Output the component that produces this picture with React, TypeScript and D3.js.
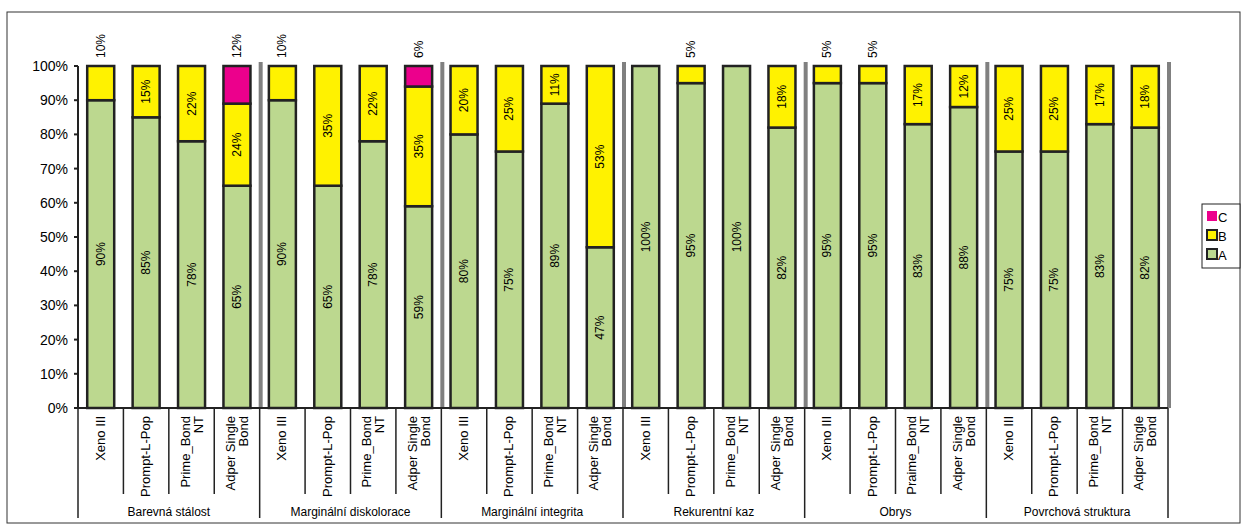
import * as React from "react";
import * as d3 from "d3";

const groups = ["Barevná stálost", "Marginální diskolorace", "Marginální integrita", "Rekurentní kaz", "Obrys", "Povrchová struktura"];
const products = [
  ["Xeno III", "Prompt-L-Pop", "Prime_Bond\nNT", "Adper Single\nBond"],
  ["Xeno III", "Prompt-L-Pop", "Prime_Bond\nNT", "Adper Single\nBond"],
  ["Xeno III", "Prompt-L-Pop", "Prime_Bond\nNT", "Adper Single\nBond"],
  ["Xeno III", "Prompt-L-Pop", "Prime_Bond\nNT", "Adper Single\nBond"],
  ["Xeno III", "Prompt-L-Pop", "Praime_Bond\nNT", "Adper Single\nBond"],
  ["Xeno III", "Prompt-L-Pop", "Prime_Bond\nNT", "Adper Single\nBond"],
];
const valuesA = [90, 85, 78, 65, 90, 65, 78, 59, 80, 75, 89, 47, 100, 95, 100, 82, 95, 95, 83, 88, 75, 75, 83, 82];
const valuesB = [10, 15, 22, 24, 10, 35, 22, 35, 20, 25, 11, 53, 0, 5, 0, 18, 5, 5, 17, 12, 25, 25, 17, 18];
const valuesC = [0, 0, 0, 12, 0, 0, 0, 6, 0, 0, 0, 0, 0, 0, 0, 0, 0, 0, 0, 0, 0, 0, 0, 0];
// label of the top segment drawn above the bar instead of inside
const outsideTop = [1, 0, 0, 1, 1, 0, 0, 1, 0, 0, 0, 0, 0, 1, 0, 0, 1, 1, 0, 0, 0, 0, 0, 0];
const yTicks = [0, 10, 20, 30, 40, 50, 60, 70, 80, 90, 100];

const colors = { A: "#bcd88f", B: "#fff200", C: "#ec008c" };
const font = "Liberation Sans, Arial, sans-serif";

export default function App() {
  const left = 78, right = 1168, top = 66, bottom = 408;
  const n = valuesA.length;
  const x = d3.scaleBand<number>().domain(d3.range(n)).range([left, right]);
  const y = d3.scaleLinear().domain([0, 100]).range([bottom, top]).clamp(true);
  const bw = 27;
  const step = x.step();

  const bars = [];
  for (let i = 0; i < n; i++) {
    const cx = x(i)! + step / 2;
    const segs = [
      { v0: 0, v1: valuesA[i], c: colors.A },
      { v0: valuesA[i], v1: valuesA[i] + valuesB[i], c: colors.B },
      { v0: valuesA[i] + valuesB[i], v1: valuesA[i] + valuesB[i] + valuesC[i], c: colors.C },
    ].filter((s) => s.v1 > s.v0);
    const last = segs.length - 1;
    bars.push(
      <g key={i}>
        {segs.map((s, k) => (
          <rect key={k} x={cx - bw / 2} y={y(s.v1)} width={bw} height={y(s.v0) - y(s.v1)} fill={s.c} stroke="#222" strokeWidth={2.5} />
        ))}
        {segs.map((s, k) => {
          const v = s.v1 - s.v0;
          if (k === last && k > 0 && outsideTop[i]) {
            return (
              <text key={"t" + k} transform={`translate(${cx + 4},${top - 8}) rotate(-90)`} fontSize={12} fontFamily={font}>{v}%</text>
            );
          }
          const ym = y((s.v0 + s.v1) / 2);
          return (
            <text key={"t" + k} transform={`translate(${cx + 4},${ym}) rotate(-90)`} textAnchor="middle" fontSize={12} fontFamily={font}>{v}%</text>
          );
        })}
      </g>
    );
  }

  return (
    <svg width={1248} height={531} style={{ position: "absolute", left: 0, top: 0 }}>
      <rect x={7} y={12} width={1233} height={511} fill="white" stroke="#333" strokeWidth={1} />
      {groups.map((g, gi) => (
        <rect key={g} x={x(gi * 4 + 3)! + step - 1} y={top - 4} width={4} height={bottom - top + 4} fill="#808080" />
      ))}
      <line x1={left} x2={left} y1={top} y2={bottom} stroke="#222" strokeWidth={2} />
      <line x1={left} x2={right} y1={bottom} y2={bottom} stroke="#222" strokeWidth={2} />
      {yTicks.map((t) => (
        <g key={t}>
          <line x1={left - 4} x2={left} y1={y(t)} y2={y(t)} stroke="#222" strokeWidth={2} />
          <text x={left - 10} y={y(t) + 5} textAnchor="end" fontSize={14} fontFamily={font}>{t}%</text>
        </g>
      ))}
      {bars}
      {d3.range(n + 1).map((i) => {
        const xx = left + i * step;
        const isGroup = i % 4 === 0;
        return <line key={"c" + i} x1={xx} x2={xx} y1={bottom} y2={isGroup ? 518 : 494} stroke="#222" strokeWidth={1.5} />;
      })}
      {products.flat().map((p, i) => {
        const lines = p.split("\n");
        const cx = x(i)! + step / 2;
        const dx0 = lines.length === 1 ? 4 : -2;
        return (
          <text key={"p" + i} transform={`translate(${cx},${412}) rotate(-90)`} textAnchor="end" fontSize={13} fontFamily={font}>
            {lines.map((l, k) => (
              <tspan key={k} x={-4} y={dx0 + k * 13}>{l}</tspan>
            ))}
          </text>
        );
      })}
      {groups.map((g, gi) => (
        <text key={"g" + gi} x={left + (gi * 4 + 2) * step} y={516} textAnchor="middle" fontSize={12} fontFamily={font}>{g}</text>
      ))}
      <rect x={1202} y={204} width={38} height={64} fill="white" stroke="#222" strokeWidth={1} />
      {[["C", colors.C], ["B", colors.B], ["A", colors.A]].map(([k, c], j) => (
        <g key={k}>
          <rect x={1207} y={211 + j * 19} width={10} height={10} fill={c} stroke={k === "C" ? "none" : "#222"} strokeWidth={2} />
          <text x={1218} y={222 + j * 19} fontSize={13} fontFamily={font}>{k}</text>
        </g>
      ))}
    </svg>
  );
}
